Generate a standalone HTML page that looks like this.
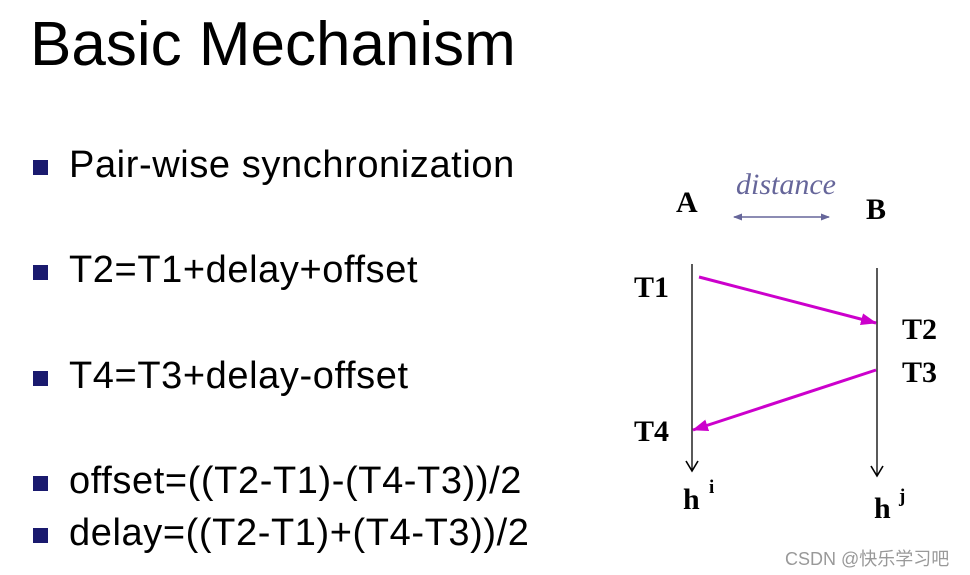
<!DOCTYPE html>
<html><head><style>
body{margin:0;width:970px;height:575px;background:#fff;position:relative;overflow:hidden;font-family:"Liberation Sans",sans-serif}
.t{position:absolute;white-space:nowrap}
.b{position:absolute;left:33px;width:15px;height:15px;background:#1a1a6e}
.bt{position:absolute;left:69px;font-size:38px;letter-spacing:0.6px;color:#000;white-space:nowrap;line-height:1}
</style></head><body>
<div class="t" style="left:30px;top:14px;font-size:62px;line-height:1">Basic Mechanism</div>
<div class="b" style="top:160px"></div><div class="bt" style="top:146px">Pair-wise synchronization</div>
<div class="b" style="top:265px"></div><div class="bt" style="top:251px">T2=T1+delay+offset</div>
<div class="b" style="top:371px"></div><div class="bt" style="top:357px">T4=T3+delay-offset</div>
<div class="b" style="top:476px"></div><div class="bt" style="top:462px">offset=((T2-T1)-(T4-T3))/2</div>
<div class="b" style="top:528px"></div><div class="bt" style="top:514px">delay=((T2-T1)+(T4-T3))/2</div>
<svg width="970" height="575" style="position:absolute;left:0;top:0" font-family="Liberation Serif,serif" font-weight="bold" font-size="30">
<defs>
<marker id="m" markerWidth="16" markerHeight="12" refX="15" refY="6" orient="auto" markerUnits="userSpaceOnUse"><path d="M0,0L16,6L0,12z" fill="#cc00cc"/></marker>
<marker id="d" markerWidth="9" markerHeight="7" refX="8" refY="3.5" orient="auto-start-reverse" markerUnits="userSpaceOnUse"><path d="M0,0L9,3.5L0,7z" fill="#66669a"/></marker>
</defs>
<text x="736" y="194" font-style="italic" font-weight="normal" font-size="30" fill="#66669a">distance</text>
<line x1="734" y1="217" x2="829" y2="217" stroke="#66669a" stroke-width="1.5" marker-start="url(#d)" marker-end="url(#d)"/>
<text x="676" y="212">A</text><text x="866" y="219">B</text>
<line x1="692" y1="264" x2="692" y2="470" stroke="#000" stroke-width="1.3"/>
<path d="M686,461L692,471L698,461" fill="none" stroke="#000" stroke-width="1.6"/>
<line x1="877" y1="268" x2="877" y2="475" stroke="#000" stroke-width="1.3"/>
<path d="M871,466L877,476L883,466" fill="none" stroke="#000" stroke-width="1.6"/>
<line x1="699" y1="277" x2="876" y2="323" stroke="#cc00cc" stroke-width="3" marker-end="url(#m)"/>
<line x1="876" y1="370" x2="693" y2="430" stroke="#cc00cc" stroke-width="3" marker-end="url(#m)"/>
<text x="634" y="297">T1</text><text x="902" y="339">T2</text><text x="902" y="382">T3</text><text x="634" y="441">T4</text>
<text x="683" y="509">h</text><text x="709" y="493" font-size="19">i</text>
<text x="874" y="518">h</text><text x="899" y="502" font-size="19">j</text>
</svg>
<div class="t" style="left:785px;top:545px;font-size:18px;color:#999;font-family:'Liberation Sans','Noto Sans CJK SC',sans-serif">CSDN @快乐学习吧</div>
</body></html>
